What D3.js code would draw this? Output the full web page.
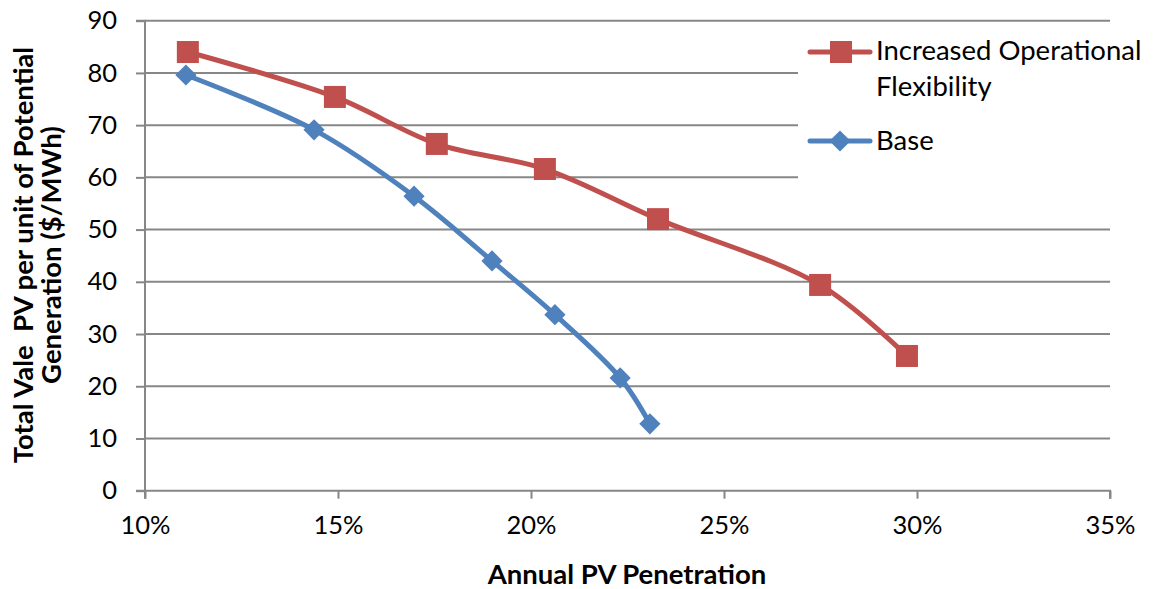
<!DOCTYPE html>
<html><head><meta charset="utf-8">
<script src="https://cdn.jsdelivr.net/npm/d3@7"></script>
<style>body{margin:0;background:#fff;} svg{display:block;}</style>
</head><body>
<svg id="c" width="1159" height="589"></svg>
<script>
const xTicks = [0.10, 0.15, 0.20, 0.25, 0.30, 0.35];
const yTicks = [0, 10, 20, 30, 40, 50, 60, 70, 80, 90];
const flexX = [0.1111, 0.1492, 0.1756, 0.2036, 0.2329, 0.2749, 0.2974];
const flexY = [84.0, 75.4, 66.4, 61.6, 52.0, 39.4, 25.8];
const baseX = [0.1106, 0.1438, 0.1697, 0.1899, 0.2062, 0.2231, 0.2308];
const baseY = [79.6, 69.1, 56.4, 44.0, 33.7, 21.6, 12.8];
const seriesNames = ["Increased Operational Flexibility", "Base"];

const svg = d3.select("#c");
const L = 145, R = 1110, T = 20.7, B = 490.7;
const x = d3.scaleLinear().domain([0.10, 0.35]).range([L, R]);
const y = d3.scaleLinear().domain([0, 90]).range([B, T]);
const font = "Lato, 'Open Sans', sans-serif";
const grid = "#878787";

// gridlines
svg.append("g").selectAll("line").data(yTicks.filter(d => d > 0)).join("line")
  .attr("x1", L).attr("x2", R).attr("y1", d => y(d)).attr("y2", d => y(d))
  .attr("stroke", grid).attr("stroke-width", 2);

// axes
const yAxis = svg.append("g").attr("transform", `translate(${L},0)`)
  .call(d3.axisLeft(y).tickValues(yTicks).tickSize(9).tickPadding(19).tickFormat(d3.format("d")));
const xAxis = svg.append("g").attr("transform", `translate(0,${B})`)
  .call(d3.axisBottom(x).tickValues(xTicks).tickSize(8).tickPadding(20).tickFormat(d3.format(".0%")));
[yAxis, xAxis].forEach(a => {
  a.select(".domain").attr("stroke", grid).attr("stroke-width", 2);
  a.selectAll(".tick line").attr("stroke", grid).attr("stroke-width", 2);
  a.selectAll("text").attr("font-family", font).attr("font-size", 25.5).attr("fill", "#000");
});
yAxis.select(".domain").attr("d", `M-9,${B}H0V${T}H-9`);
xAxis.select(".domain").attr("d", `M${L},8V0H${R}V8`);
xAxis.selectAll("text").attr("dy", "0.62em");

// legend background covering gridlines
svg.append("rect").attr("x", 798).attr("y", 26).attr("width", 361).attr("height", 170).attr("fill", "#fff");

const line = d3.line().x(d => x(d[0])).y(d => y(d[1])).curve(d3.curveCatmullRom.alpha(0.5));
const flex = flexX.map((v, i) => [v, flexY[i]]);
const base = baseX.map((v, i) => [v, baseY[i]]);
const red = "#C0504D", blue = "#4F81BD";

svg.append("path").attr("d", line(base)).attr("fill", "none").attr("stroke", blue).attr("stroke-width", 5).attr("stroke-linejoin", "round");
svg.append("g").selectAll("rect").data(base).join("rect")
  .attr("x", -7.5).attr("y", -7.5).attr("width", 15).attr("height", 15)
  .attr("transform", d => `translate(${x(d[0])},${y(d[1])}) rotate(45)`)
  .attr("fill", blue);

svg.append("path").attr("d", line(flex)).attr("fill", "none").attr("stroke", red).attr("stroke-width", 5).attr("stroke-linejoin", "round");
svg.append("g").selectAll("rect").data(flex).join("rect")
  .attr("x", d => x(d[0]) - 11).attr("y", d => y(d[1]) - 11).attr("width", 22).attr("height", 22)
  .attr("fill", red);

// legend
const lg = svg.append("g");
lg.append("line").attr("x1", 810).attr("x2", 870).attr("y1", 52).attr("y2", 52).attr("stroke", red).attr("stroke-width", 5).attr("stroke-linecap", "round");
lg.append("rect").attr("x", 830).attr("y", 41).attr("width", 22).attr("height", 22).attr("fill", red);
lg.append("line").attr("x1", 810).attr("x2", 870).attr("y1", 141).attr("y2", 141).attr("stroke", blue).attr("stroke-width", 5).attr("stroke-linecap", "round");
lg.append("rect").attr("x", -7.5).attr("y", -7.5).attr("width", 15).attr("height", 15)
  .attr("transform", "translate(840,141) rotate(45)").attr("fill", blue);
const lt = lg.append("text").attr("font-family", font).attr("font-size", 27.5).attr("fill", "#000");
lt.append("tspan").attr("x", 876).attr("y", 60).text("Increased Operational");
lt.append("tspan").attr("x", 876).attr("y", 96).text("Flexibility");
lg.append("text").attr("x", 876).attr("y", 150).attr("font-family", font).attr("font-size", 27.5).text(seriesNames[1]);

// axis titles
svg.append("text").attr("x", 627).attr("y", 584).attr("text-anchor", "middle")
  .attr("font-family", font).attr("font-weight", "bold").attr("font-size", 27.5).text("Annual PV Penetration");
const yt = svg.append("text").attr("transform", "translate(0,255) rotate(-90)").attr("text-anchor", "middle")
  .attr("font-family", font).attr("font-weight", "bold").attr("font-size", 27.5)
  .attr("xml:space", "preserve");
yt.append("tspan").attr("x", 0).attr("y", 33).text("Total Vale  PV per unit of Potential");
yt.append("tspan").attr("x", 0).attr("y", 61).text("Generation ($/MWh)");
</script>
</body></html>
